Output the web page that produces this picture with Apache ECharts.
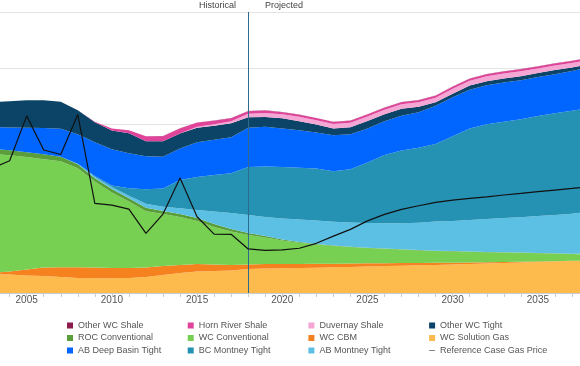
<!DOCTYPE html>
<html>
<head>
<meta charset="utf-8">
<script src="https://cdn.jsdelivr.net/npm/echarts@6/dist/echarts.min.js"></script>
<style>html,body{margin:0;padding:0;background:#fff;}#c{width:580px;height:366px;}</style>
</head>
<body>
<div id="c"></div>
<script>
const years = ['2003','2004','2005','2006','2007','2008','2009','2010','2011','2012','2013','2014','2015','2016','2017','2018','2019','2020','2021','2022','2023','2024','2025','2026','2027','2028','2029','2030','2031','2032','2033','2034','2035','2036','2037','2038'];
const wcSolutionGas = [1.69,1.64,1.56,1.51,1.42,1.33,1.31,1.31,1.33,1.42, 1.60,1.78,1.91,1.96,2.00,2.13,2.18,2.20,2.22,2.25, 2.28,2.31,2.36,2.40,2.43,2.46,2.49,2.53,2.58,2.62, 2.67,2.71,2.76,2.80,2.84,2.89];
const wcCBM = [0.09,0.27,0.53,0.76,0.86,0.95,0.96,0.92,0.89,0.84, 0.80,0.71,0.67,0.58,0.49,0.40,0.40,0.38,0.36,0.35, 0.33,0.31,0.28,0.25,0.24,0.20,0.20,0.17,0.14,0.12, 0.09,0.06,0.04,0.03,0.02,0.01];
const wcConventional = [10.58,10.35,10.00,9.64,9.45,8.82,7.64,6.71,5.91,5.02, 4.62,4.27,3.82,3.33,2.98,2.62,2.36,2.09,1.89,1.72, 1.58,1.47,1.36,1.28,1.19,1.13,1.04,1.00,0.94,0.88, 0.84,0.80,0.73,0.68,0.60,0.55];
const rocConventional = [0.44,0.44,0.44,0.44,0.40,0.36,0.31,0.31,0.31,0.31, 0.27,0.27,0.27,0.27,0.22,0.18,0.13,0.09,0.06,0.04, 0.03,0.03,0.03,0.03,0.03,0.03,0.03,0.03,0.03,0.03, 0.03,0.03,0.03,0.03,0.03,0.03];
const abMontneyTight = [0,0,0,0,0,0.04,0.09,0.18,0.22,0.36, 0.38,0.51,0.71,1.11,1.42,1.60,1.69,1.87,2.00,2.09, 2.13,2.15,2.20,2.24,2.31,2.43,2.60,2.68,2.80,2.93, 3.05,3.15,3.29,3.40,3.57,3.73];
const bcMontneyTight = [0,0,0,0,0,0,0.09,0.13,0.67,1.29, 1.62,2.52,2.93,3.24,3.55,4.27,4.49,4.58,4.62,4.62, 4.49,4.75,5.38,6.07,6.47,6.68,6.89,7.54,8.15,8.44, 8.56,8.71,8.89,9.06,9.15,9.24];
const abDeepBasinTight = [1.96,2.02,2.18,2.34,2.49,2.62,3.02,3.24,3.11,2.93, 2.84,2.80,3.11,3.15,3.20,3.51,3.54,3.42,3.33,3.20, 3.20,3.11,3.02,3.02,3.11,3.15,3.42,3.47,3.45,3.47, 3.48,3.47,3.47,3.47,3.55,3.60];
const otherWCTight = [2.22,2.34,2.44,2.46,2.40,2.13,1.78,1.66,1.78,1.33, 1.38,1.33,1.29,1.24,1.24,0.93,0.86,0.91,0.80,0.71, 0.60,0.62,0.67,0.62,0.62,0.49,0.31,0.31,0.36,0.36, 0.36,0.36,0.36,0.36,0.31,0.31];
const duvernayShale = [0,0,0,0,0,0,0,0,0,0, 0,0,0.09,0.13,0.18,0.31,0.36,0.36,0.40,0.40, 0.40,0.40,0.40,0.40,0.40,0.40,0.40,0.44,0.44,0.44, 0.44,0.44,0.40,0.40,0.40,0.40];
const hornRiverShale = [0,0,0,0,0,0,0.04,0.18,0.27,0.44, 0.44,0.44,0.36,0.31,0.27,0.22,0.22,0.18,0.18,0.18, 0.18,0.18,0.18,0.18,0.18,0.18,0.18,0.18,0.18,0.18, 0.18,0.18,0.18,0.18,0.18,0.18];
const otherWCShale = [0,0,0,0,0,0,0,0,0,0.01, 0.02,0.02,0.02,0.02,0.02,0.02,0.02,0.02,0.02,0.02, 0.02,0.02,0.02,0.02,0.02,0.02,0.02,0.02,0.02,0.02, 0.02,0.02,0.02,0.02,0.02,0.02];
const gasPrice = [5.56,5.88,7.88,6.36,6.16,7.94,3.99,3.91,3.73,2.65, 3.51,5.12,3.39,2.62,2.61,1.96,1.90,1.92,1.99,2.21, 2.53,2.83,3.21,3.50,3.72,3.88,4.03,4.13,4.21,4.28, 4.36,4.43,4.51,4.58,4.65,4.73];
const xTickLabels = ['2005','2010','2015','2020','2025','2030','2035'];
const splitYear = '2018';

const stackDefs = [
  ['WC Solution Gas', wcSolutionGas, '#FDBB4D'],
  ['WC CBM', wcCBM, '#F5821F'],
  ['WC Conventional', wcConventional, '#77D052'],
  ['ROC Conventional', rocConventional, '#5A9E3A'],
  ['AB Montney Tight', abMontneyTight, '#5BC0E4'],
  ['BC Montney Tight', bcMontneyTight, '#2592B4'],
  ['AB Deep Basin Tight', abDeepBasinTight, '#0066FF'],
  ['Other WC Tight', otherWCTight, '#0B4466'],
  ['Duvernay Shale', duvernayShale, '#F4A7D4'],
  ['Horn River Shale', hornRiverShale, '#E0449A'],
  ['Other WC Shale', otherWCShale, '#8E1B4E']
];

const series = stackDefs.map(([name, arr, color]) => ({
  name, type: 'line', stack: 'gas', data: arr, showSymbol: false, symbol: 'none',
  lineStyle: { width: 0 }, itemStyle: { color }, areaStyle: { color, opacity: 1 }
}));
series.push({
  name: 'Reference Case Gas Price', type: 'line', yAxisIndex: 1, data: gasPrice,
  showSymbol: false, symbol: 'none', lineStyle: { color: '#111', width: 1.2 }, itemStyle: { color: '#333' },
  z: 10,
  markLine: { symbol: 'none', silent: true, label: { show: false },
    lineStyle: { color: '#2E6A8E', width: 1, type: 'solid' }, data: [{ xAxis: splitYear }] }
});

const legendOrder = [
  'Other WC Shale', 'Horn River Shale', 'Duvernay Shale', 'Other WC Tight',
  'ROC Conventional', 'WC Conventional', 'WC CBM', 'WC Solution Gas',
  'AB Deep Basin Tight', 'BC Montney Tight', 'AB Montney Tight', 'Reference Case Gas Price'
];

const chart = echarts.init(document.getElementById('c'), null, { renderer: 'canvas' });
chart.setOption({
  animation: false,
  backgroundColor: '#fff',
  textStyle: { fontFamily: 'Liberation Sans' },
  grid: { left: -7.4, right: -9, top: 12, bottom: 73, containLabel: false, outerBoundsMode: 'none' },
  xAxis: {
    type: 'category', data: years, boundaryGap: false,
    axisLine: { show: true, lineStyle: { color: '#ccc' } },
    axisTick: { show: true, length: 4, interval: 0, lineStyle: { color: '#ccc' } },
    axisLabel: { fontSize: 10, color: '#555', margin: 2, interval: 0,
      formatter: v => xTickLabels.indexOf(String(v)) >= 0 ? String(v) : '' },
    splitLine: { show: false }
  },
  yAxis: [
    { type: 'value', min: 0, max: 25, interval: 5, axisLabel: { show: false }, axisLine: { show: false }, axisTick: { show: false },
      splitLine: { lineStyle: { color: '#e4e4e4', width: 1 } } },
    { type: 'value', min: 0, max: 12.5, interval: 2.5, show: false, splitLine: { show: false } }
  ],
  legend: {
    orient: 'horizontal', left: 62, top: 315, width: 560, itemGap: 1.5, itemWidth: 6, itemHeight: 6,
    selectedMode: false,
    data: legendOrder.map(n => n === 'Reference Case Gas Price'
      ? { name: n, icon: 'path://M0,0 L12,0 L12,1.2 L0,1.2 Z', itemStyle: { color: '#333' } }
      : { name: n, icon: 'rect' }),
    textStyle: { fontSize: 9, color: '#555', fontFamily: 'Liberation Sans', width: 108.2, lineHeight: 11 }
  },
  graphic: [
    { type: 'text', right: 580 - 236, top: 1, style: { text: 'Historical', fontSize: 9, fill: '#444', fontFamily: 'Liberation Sans' } },
    { type: 'text', left: 265, top: 1, style: { text: 'Projected', fontSize: 9, fill: '#444', fontFamily: 'Liberation Sans' } }
  ],
  series
});
</script>
</body>
</html>
